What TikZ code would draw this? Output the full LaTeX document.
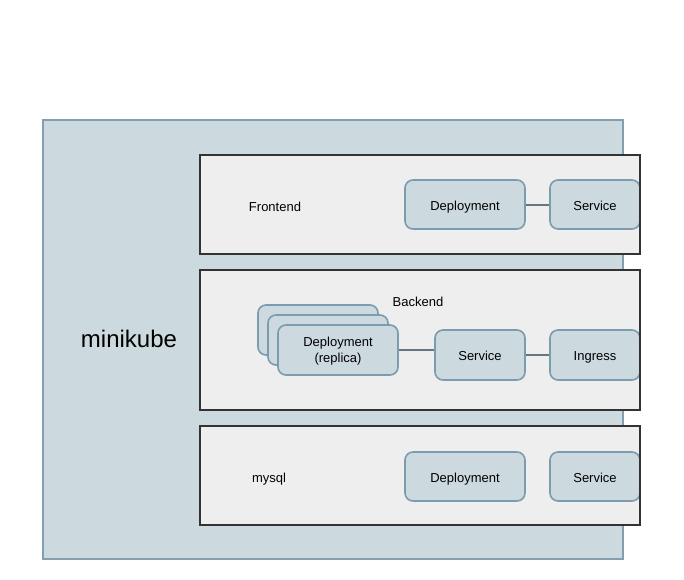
\documentclass[tikz,border=0pt]{standalone}
\usepackage{fontspec}
\setmainfont{Liberation Sans}
\definecolor{kubefill}{HTML}{CCD9DF}
\definecolor{kubeline}{HTML}{819FB0}
\definecolor{groupfill}{HTML}{EEEEEE}
\definecolor{groupline}{HTML}{333333}
\definecolor{podline}{HTML}{7A9CAE}
\definecolor{linkline}{HTML}{66767E}
\tikzset{
  kube/.style={draw=kubeline,fill=kubefill,line width=2pt},
  group/.style={draw=none,fill=groupfill,minimum width=440pt,inner sep=0pt},
  groupborder/.style={draw=groupline,line width=2pt},
  pod/.style={draw=podline,fill=kubefill,line width=1.6pt,rounded corners=8pt,
    minimum width=120pt,minimum height=49pt,inner sep=0pt,align=center,
    font=\fontsize{13}{15.5}\selectfont},
  oneline/.style={text height=12pt,text depth=1pt},
  svc/.style={pod,oneline,minimum width=90pt},
  label/.style={oneline,inner sep=0pt,font=\fontsize{13}{15}\selectfont},
  link/.style={draw=linkline,line width=2pt}
}
\begin{document}
\begin{tikzpicture}[x=1pt,y=-1pt]
        \useasboundingbox[fill=white] (0,0) rectangle (684,579);

        %%%%%%%%%% Cluster %%%%%%%%%%
        \draw[kube] (43,120) rectangle (623,559);
        \node[font=\fontsize{24}{28}\selectfont] (minikube) at (129,339) {minikube};

        %%%%%%%%%% Gruppi %%%%%%%%%%
        \node[group,minimum height=99pt] (front) at (420,204.5) {};
        \node[group,minimum height=140pt] (back) at (420,340) {};
        \node[group,minimum height=99pt] (db) at (420,475.5) {};

        \node[label] (frontlbl) at (275,206) {Frontend};
        \node[label] (backlbl) at (418,301) {Backend};
        \node[label] (dblbl) at (269,477) {mysql};

        %%%%%%%%%% Nodi %%%%%%%%%%
        \node[pod,oneline] (fdep) at (465,204.5) {Deployment};
        \node[svc] (fsvc) at (595,204.5) {Service};

        \node[pod,minimum height=50pt] (rep3) at (318,330) {};
        \node[pod,minimum height=50pt] (rep2) at (328,340) {};
        \node[pod,minimum height=50pt,text depth=-2.5pt] (rep) at (338,350) {Deployment\\(replica)};
        \node[svc,minimum height=50pt] (bsvc) at (480,355) {Service};
        \node[svc,minimum height=50pt] (ingress) at (595,355) {Ingress};

        \node[pod,oneline] (ddep) at (465,476.5) {Deployment};
        \node[svc] (dsvc) at (595,476.5) {Service};

        %%%%%%%%% Bordi %%%%%%%%%
        \draw[groupborder] (front.north west) rectangle (front.south east);
        \draw[groupborder] (back.north west) rectangle (back.south east);
        \draw[groupborder] (db.north west) rectangle (db.south east);

        %%%%%%%%% Linee %%%%%%%%%
        \draw[link] (fdep) -- (fsvc);
        \draw[link] (rep.east) -- (rep.east -| bsvc.west);
        \draw[link] (bsvc) -- (ingress);
    \end{tikzpicture}
\end{document}
